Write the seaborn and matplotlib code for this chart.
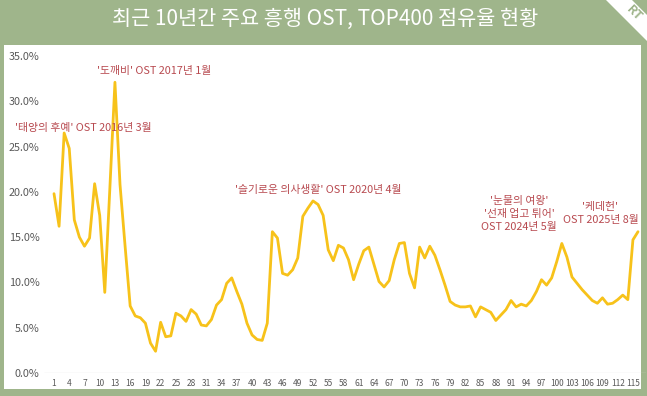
import numpy as np
import pandas as pd
import matplotlib.pyplot as plt
import matplotlib.patches as mpatches
import seaborn as sns

# 월별 TOP400 점유율 (%)
month_idx = list(range(1, 117))
share = [
    19.8, 16.2, 26.5, 24.8, 16.9, 15.0, 14.0, 14.9, 20.9, 17.4,
    8.9, 20.4, 32.1, 20.8, 14.0, 7.4, 6.3, 6.1, 5.5, 3.3,
    2.4, 5.6, 4.0, 4.1, 6.6, 6.3, 5.7, 7.0, 6.5, 5.3,
    5.2, 5.9, 7.5, 8.1, 9.9, 10.5, 9.0, 7.6, 5.5, 4.2,
    3.7, 3.6, 5.5, 15.6, 14.9, 11.0, 10.8, 11.4, 12.7, 17.3,
    18.2, 19.0, 18.6, 17.4, 13.6, 12.4, 14.1, 13.8, 12.5, 10.3,
    12.0, 13.5, 13.9, 12.0, 10.1, 9.5, 10.2, 12.5, 14.3, 14.4,
    11.0, 9.4, 13.9, 12.7, 14.0, 13.0, 11.4, 9.7, 7.9, 7.5,
    7.3, 7.3, 7.4, 6.2, 7.3, 7.0, 6.7, 5.8, 6.4, 7.0,
    8.0, 7.3, 7.6, 7.4, 8.0, 9.0, 10.3, 9.7, 10.5, 12.3,
    14.3, 12.8, 10.6, 9.9, 9.2, 8.6, 8.0, 7.7, 8.3, 7.6,
    7.7, 8.1, 8.6, 8.1, 14.7, 15.6,
]
x_ticks = list(range(1, 116, 3))
y_ticks = [0, 5, 10, 15, 20, 25, 30, 35]

title = "최근 10년간 주요 흥행 OST, TOP400 점유율 현황"
notes = [
    ("'도깨비' OST 2017년 1월", 9.5, 33.3, "left"),
    ("'태양의 후예' OST 2016년 3월", -6.7, 27.05, "left"),
    ("'슬기로운 의사생활' OST 2020년 4월", 36.6, 20.2, "left"),
    ("'눈물의 여왕'\n'선재 업고 튀어'\nOST 2024년 5월", 92.6, 17.55, "center"),
    ("'케데헌'\nOST 2025년 8월", 108.6, 17.6, "center"),
]

df = pd.DataFrame({"month": month_idx, "share": share})

sns.set_theme(style="white")
plt.rcParams['font.family'] = ['Noto Sans CJK KR', 'DejaVu Sans']

W, H = 647, 396
green = "#9fb58b"
fig = plt.figure(figsize=(W / 100, H / 100), dpi=100, facecolor=green)

# 흰색 패널 (축 뒤에 깔리도록 zorder 낮춤)
fig.patches.append(mpatches.Rectangle((4 / W, 1 - 389 / H), 637 / W, 344 / H,
                                      transform=fig.transFigure, facecolor="white",
                                      edgecolor="none", zorder=-10))
# 우측 상단 리본
ribbon = np.array([[606, 0], [632, 0], [647, 15], [647, 41]], dtype=float)
ribbon[:, 0] /= W
ribbon[:, 1] = 1 - ribbon[:, 1] / H
fig.patches.append(mpatches.Polygon(ribbon, closed=True, transform=fig.transFigure,
                                    facecolor="white", edgecolor="none", zorder=-9))
fig.text(634 / W, 1 - 13 / H, "RT", color=green, fontsize=9, fontweight="bold",
         rotation=-45, ha="center", va="center")

fig.text(325 / W, 1 - 19 / H, title, color="white", fontsize=15, fontweight="medium",
         ha="center", va="center")

# 데이터 영역: x=1 -> 54px, x=116 -> 638px, y=0 -> 373px, y=35 -> 56px
ppu = (638 - 54) / 115
x0, x1 = -1.0, 117.5
left_px = 54 - (1 - x0) * ppu
width_px = (x1 - x0) * ppu
ax = fig.add_axes([left_px / W, 1 - 373 / H, width_px / W, (373 - 56) / H])
ax.patch.set_alpha(0)

sns.lineplot(data=df, x="month", y="share", ax=ax, color="#f7c21a",
             linewidth=2.0, solid_joinstyle="round")

ax.set_xlim(x0, x1)
ax.set_ylim(0, 35)
for s in ax.spines.values():
    s.set_visible(False)
ax.axhline(0, color="#d9d9d9", linewidth=0.9, zorder=0)

ax.set_xticks(x_ticks)
ax.set_xticklabels([str(v) for v in x_ticks], fontsize=6.0, color="#595959")
ax.set_yticks(y_ticks)
ax.set_yticklabels([f"{v:.1f}%" for v in y_ticks], fontsize=7.8, color="#595959")
ax.tick_params(axis="both", length=0)
ax.tick_params(axis="x", pad=4)
ax.tick_params(axis="y", pad=3)
ax.set_xlabel("")
ax.set_ylabel("")

for txt, xx, yy, ha in notes:
    ax.text(xx, yy, txt, color="#b84a50", fontsize=7.8, ha=ha, va="center",
            linespacing=1.35, clip_on=False)

fig.savefig("out.png", dpi=100, facecolor=green)
